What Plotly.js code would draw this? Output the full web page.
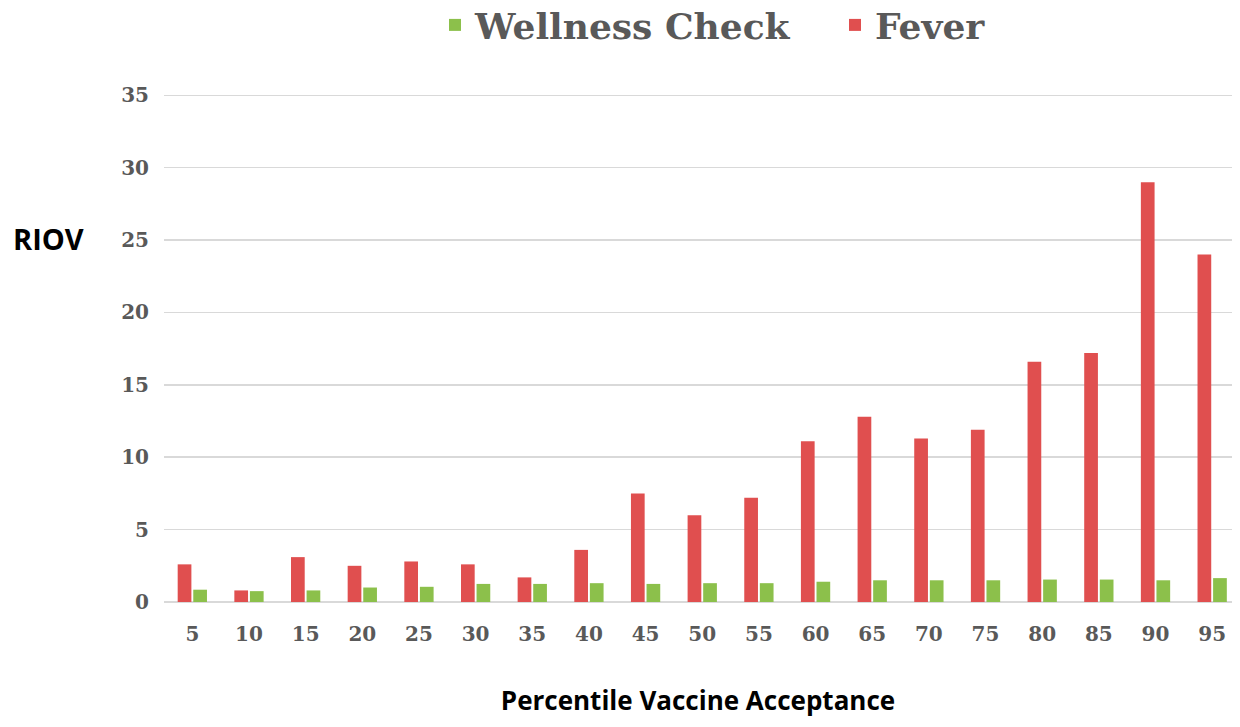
<!DOCTYPE html>
<html>
<head>
<meta charset="utf-8">
<script src="https://cdn.plot.ly/plotly-3.0.1.min.js"></script>
<style>html,body{margin:0;padding:0;background:#fff;}#chart{width:1240px;height:727px;}</style>
</head>
<body>
<div id="chart"></div>
<script>
const categories = ["5","10","15","20","25","30","35","40","45","50","55","60","65","70","75","80","85","90","95"];
const feverValues = [2.6, 0.8, 3.1, 2.5, 2.8, 2.6, 1.7, 3.6, 7.5, 6.0, 7.2, 11.1, 12.8, 11.3, 11.9, 16.6, 17.2, 29.0, 24.0];
const wellnessValues = [0.85, 0.75, 0.8, 1.0, 1.05, 1.25, 1.25, 1.3, 1.25, 1.3, 1.3, 1.4, 1.5, 1.5, 1.5, 1.55, 1.55, 1.5, 1.65];
const yTicks = [0, 5, 10, 15, 20, 25, 30, 35];

const serif = "DejaVu Serif, Liberation Serif, serif";
const sans = "Open Sans, Liberation Sans, sans-serif";

const traces = [
  {type: "bar", name: "Fever", x: categories, y: feverValues, marker: {color: "#E04F4F"}},
  {type: "bar", name: "Wellness Check", x: categories, y: wellnessValues, marker: {color: "#8CC04B"}}
];

const layout = {
  width: 1240, height: 727,
  margin: {l: 164, r: 8, t: 91, b: 125},
  paper_bgcolor: "#fff", plot_bgcolor: "#fff",
  barmode: "group", bargap: 0.45, bargroupgap: 0.12,
  showlegend: true,
  legend: {
    orientation: "h", traceorder: "reversed",
    xref: "container", yref: "container",
    x: 435/1240, xanchor: "left", y: 1 - 25/727, yanchor: "middle",
    entrywidth: 355, entrywidthmode: "pixels",
    font: {family: serif, size: 36, color: "#595959", weight: "bold"}
  },
  xaxis: {
    type: "category", range: [-0.5, 18.35],
    showgrid: false, zeroline: false, showline: false, ticks: "",
    ticklabelstandoff: 18,
    tickfont: {family: serif, size: 20, color: "#595959", weight: "bold"},
    title: {text: "Percentile Vaccine Acceptance", standoff: 46,
            font: {family: sans, size: 26, color: "#000", weight: "bold"}}
  },
  yaxis: {
    range: [0, 35.3], tickvals: yTicks, ticktext: yTicks.map(String),
    showgrid: true, gridcolor: "#D9D9D9", gridwidth: 1.5,
    zeroline: true, zerolinecolor: "#D9D9D9", zerolinewidth: 1.5,
    showline: false, ticks: "", ticklabelstandoff: 14,
    tickfont: {family: serif, size: 20, color: "#595959", weight: "bold"}
  },
  annotations: [
    {text: "RIOV", xref: "paper", yref: "paper", x: (48 - 164) / 1068, y: (602 - 238) / 511,
     xanchor: "center", yanchor: "middle", showarrow: false,
     font: {family: sans, size: 29, color: "#000", weight: "bold"}}
  ]
};

Plotly.newPlot("chart", traces, layout, {displayModeBar: false, staticPlot: true});
</script>
</body>
</html>
